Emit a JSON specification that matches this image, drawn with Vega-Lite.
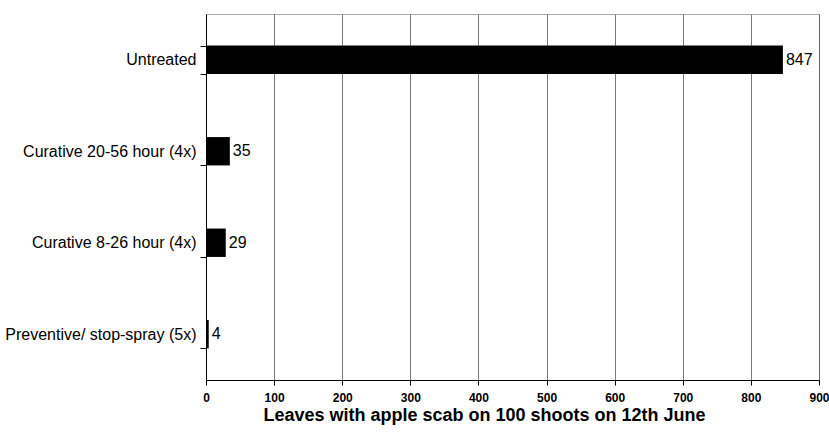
{
  "$schema": "https://vega.github.io/schema/vega-lite/v6.json",
  "width": 613,
  "height": 366,
  "autosize": {"type": "none"},
  "padding": {"left": 206, "top": 14, "right": 10, "bottom": 52},
  "background": "white",
  "config": {
    "font": "Liberation Sans",
    "view": {"stroke": "#555", "strokeDash": [1, 1], "strokeWidth": 1}
  },
  "data": {
    "values": [
      {"treatment": "Untreated", "leaves": 847},
      {"treatment": "Curative 20-56 hour (4x)", "leaves": 35},
      {"treatment": "Curative 8-26 hour (4x)", "leaves": 29},
      {"treatment": "Preventive/ stop-spray (5x)", "leaves": 4}
    ]
  },
  "encoding": {
    "y": {
      "field": "treatment",
      "type": "nominal",
      "sort": null,
      "scale": {"paddingInner": 0.69, "paddingOuter": 0.345},
      "axis": {
        "title": null,
        "tickBand": "extent",
        "domainColor": "black",
        "tickColor": "black",
        "tickSize": 6,
        "labelPadding": 4,
        "labelFontSize": 16,
        "labelColor": "black",
        "labelFont": "Liberation Sans",
        "labelLimit": 300
      }
    },
    "x": {
      "field": "leaves",
      "type": "quantitative",
      "scale": {"domain": [0, 900], "nice": false},
      "axis": {
        "values": [0, 100, 200, 300, 400, 500, 600, 700, 800, 900],
        "title": "Leaves with apple scab on 100 shoots on 12th  June",
        "titleFontSize": 18,
        "titleFontWeight": "bold",
        "titleColor": "black",
        "titlePadding": 3,
        "titleX": 278,
        "grid": true,
        "gridColor": "#555",
        "gridWidth": 0.8,
        "domainColor": "black",
        "tickColor": "black",
        "tickSize": 5,
        "labelFontSize": 12,
        "labelFontWeight": "bold",
        "labelColor": "black",
        "labelPadding": 7,
        "labelFlush": false
      }
    }
  },
  "layer": [
    {"mark": {"type": "bar", "color": "black"}},
    {
      "mark": {"type": "text", "align": "left", "baseline": "middle", "dx": 3, "fontSize": 16, "color": "black"},
      "encoding": {"text": {"field": "leaves", "type": "quantitative"}}
    }
  ]
}
